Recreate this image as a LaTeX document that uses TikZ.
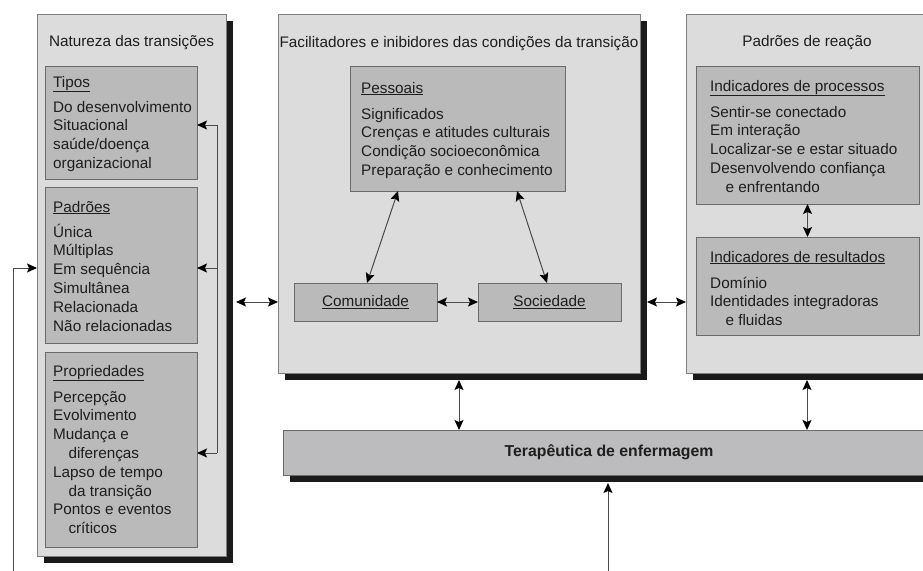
\documentclass[tikz,border=0pt]{standalone}
\usepackage{fontspec}
\setmainfont{Liberation Sans}
\usetikzlibrary{arrows.meta,shadows,calc}
\definecolor{outerfill}{HTML}{DCDCDC}
\definecolor{outerline}{HTML}{808080}
\definecolor{innerfill}{HTML}{BABABA}
\definecolor{innerline}{HTML}{6A6A6A}
\definecolor{terfill}{HTML}{BCBCBE}
\definecolor{txtc}{HTML}{1E1E1E}
\definecolor{shad}{HTML}{1A1A1A}
\definecolor{connc}{HTML}{4A4A4A}
\tikzset{
  outerbox/.style={draw=outerline, fill=outerfill, line width=1pt, inner sep=0pt, outer sep=0pt,
    general shadow={fill=shad, shadow xshift=7pt, shadow yshift=-7pt}},
  innerbox/.style={draw=innerline, fill=innerfill, line width=1pt, inner sep=0pt, outer sep=0pt,
    text=txtc, font=\fontsize{15.3}{19}\selectfont},
  terbox/.style={outerbox, fill=terfill, draw=innerline, text=txtc, font=\bfseries\fontsize{15.8}{18}\selectfont},
  txt/.style={anchor=base west, inner sep=0pt, text=txtc, font=\fontsize{15.3}{19}\selectfont},
  ttl/.style={anchor=base, inner sep=0pt, text=txtc, font=\fontsize{15.3}{19}\selectfont},
  connline/.style={draw=connc, line width=1pt},
  arr/.style={connline, -{Stealth[length=10pt,width=9pt,inset=2pt,color=black]}},
  darr/.style={connline, {Stealth[length=10pt,width=9pt,inset=2pt,color=black]}-{Stealth[length=10pt,width=9pt,inset=2pt,color=black]}},
}
% box: style, name, x1, y1, x2, y2, text
\newcommand\bx[7]{\node[#1, minimum width={#5-#3}, minimum height={#6-#4}] (#2) at ({(#3+#5)/2},{(#4+#6)/2}) {#7};}
% lines: name prefix, x, first baseline, list
\newcommand\lns[4]{\foreach \myl [count=\i] in {#4} {\node[txt] (#1\i) at (#2,{#3+18.8*(\i-1)}) {\myl};}}
\begin{document}
\begin{tikzpicture}[x=1pt,y=-1pt]
\useasboundingbox (0,0) rectangle (923,570);
\fill[white] (0,0) rectangle (923,570);
\clip (0,0) rectangle (923,570);

% outer boxes
\bx{outerbox}{L}{37}{14}{226}{556}{}
\bx{outerbox}{C}{278}{14}{640}{373}{}
\bx{outerbox}{R}{686}{14}{928}{373}{}
\bx{terbox}{ter}{283}{430}{935}{475}{Terapêutica de enfermagem}

% titles
\node[ttl] (Lt) at (131.5,46) {Natureza das transições};
\node[ttl] (Ct) at (459,47) {Facilitadores e inibidores das condições da transição};
\node[ttl] (Rt) at (807,46) {Padrões de reação};

% left inner boxes
\bx{innerbox}{tip}{45}{66}{197}{179}{}
\bx{innerbox}{pad}{45}{187}{197}{343}{}
\bx{innerbox}{pro}{45}{352}{197}{547}{}
\node[txt] (tipT) at (53,87) {\underline{Tipos}};
\lns{tipL}{53}{112}{Do desenvolvimento,Situacional,saúde/doença,organizacional}
\node[txt] (padT) at (53,212) {\underline{Padrões}};
\lns{padL}{53}{237}{Única,Múltiplas,Em sequência,Simultânea,Relacionada,Não relacionadas}
\node[txt] (proT) at (53,376) {\underline{Propriedades}};
\lns{proL}{53}{402}{Percepção,Evolvimento,Mudança e,\hspace*{1em}diferenças,Lapso de tempo,\hspace*{1em}da transição,Pontos e eventos,\hspace*{1em}críticos}

% center inner boxes
\bx{innerbox}{pes}{350}{66}{565}{191}{}
\node[txt] (pesT) at (361,93) {\underline{Pessoais}};
\lns{pesL}{361}{119}{Significados,Crenças e atitudes culturais,Condição socioeconômica,Preparação e conhecimento}
\bx{innerbox}{com}{294}{283}{437}{321}{\underline{Comunidade}}
\bx{innerbox}{soc}{478}{283}{621}{321}{\underline{Sociedade}}

% right inner boxes
\bx{innerbox}{proc}{696}{66}{919}{204}{}
\node[txt] (procT) at (710,91) {\underline{Indicadores de processos}};
\lns{procL}{710}{117}{Sentir-se conectado,Em interação,Localizar-se e estar situado,Desenvolvendo confiança,\hspace*{1em}e enfrentando}
\bx{innerbox}{res}{696}{237}{919}{335}{}
\node[txt] (resT) at (710,262) {\underline{Indicadores de resultados}};
\lns{resL}{710}{288}{Domínio,Identidades integradoras,\hspace*{1em}e fluidas}

% bracket in left box
\coordinate (bt) at (217,125);
\coordinate (bm) at (217,268);
\coordinate (bb) at (217,453);
\draw[connline] (bt) -- (bb);
\draw[arr] (bt) -- (bt -| tip.east);
\draw[arr] (bm) -- (bm -| pad.east);
\draw[arr] (bb) -- (bb -| pro.east);

% feedback line
\coordinate (fb) at (13,572);
\draw[arr] (fb) |- (L.west |- bm);

% horizontal connectors
\draw[darr, shorten <=10pt] (L.east |- com) -- (C.west |- com);
\draw[darr, shorten <=7pt] (C.east |- com) -- (R.west |- com);
\draw[darr] (com) -- (soc);

% inside center
\draw[darr] (pes.south -| 398,0) -- (com.north -| 367,0);
\draw[darr] (pes.south -| 517,0) -- (soc.north -| 547,0);

% inside right
\draw[darr] (proc) -- (res);

% to therapeutics
\draw[darr, shorten <=7pt] (C.south) -- (C.south |- ter.north);
\draw[darr, shorten <=7pt] (R.south) -- (R.south |- ter.north);
\coordinate (bot) at (608,572);
\draw[arr, shorten >=8pt] (bot) -- (bot |- ter.south);
\end{tikzpicture}
\end{document}
